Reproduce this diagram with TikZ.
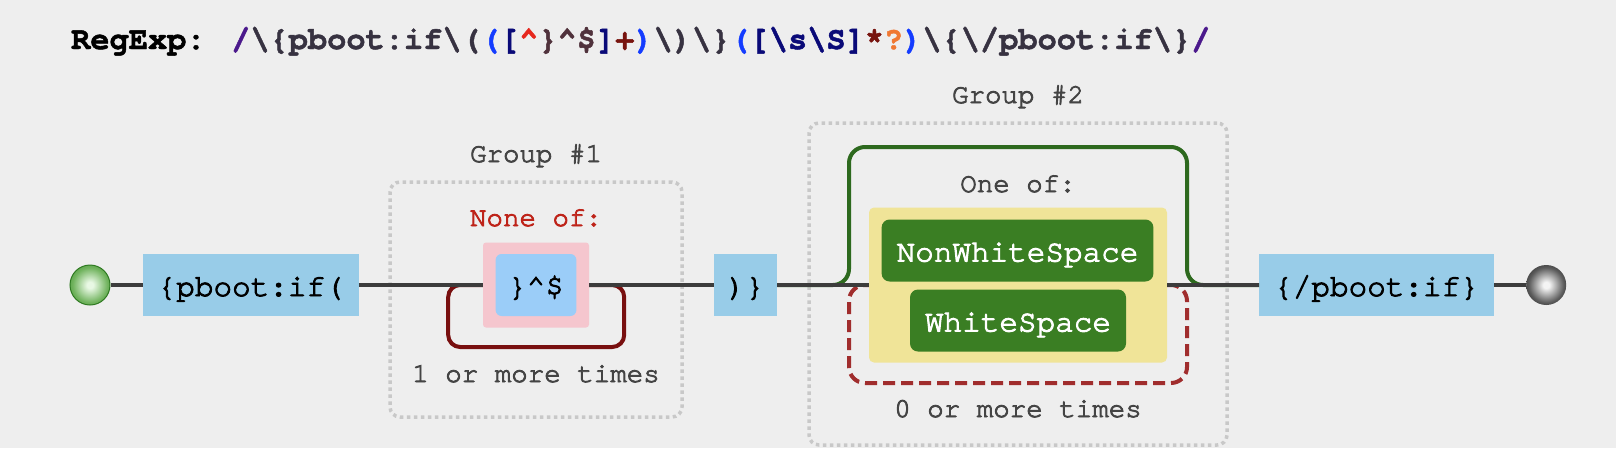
\documentclass[tikz,border=0pt]{standalone}
\usepackage{fontspec}
\setmonofont{TeX Gyre Cursor}
\newfontfamily\railfont[FakeBold=3]{TeX Gyre Cursor}
\newfontfamily\titlefont[FakeBold=1.5]{TeX Gyre Cursor Bold}
\usetikzlibrary{positioning}
\definecolor{bg}{HTML}{EEEEEE}
\definecolor{mainline}{HTML}{3C3C3C}
\definecolor{litblue}{HTML}{98CCE8}
\definecolor{chrblue}{HTML}{9BCDF8}
\definecolor{negpink}{HTML}{F5C6CE}
\definecolor{nonered}{HTML}{BE2319}
\definecolor{loopred}{HTML}{780F0F}
\definecolor{lazyred}{HTML}{A02D2D}
\definecolor{skipgreen}{HTML}{2D691E}
\definecolor{setyellow}{HTML}{F0E498}
\definecolor{classgreen}{HTML}{3A7E23}
\definecolor{groupgray}{HTML}{C8C8C8}
\definecolor{labelgray}{HTML}{444444}
\definecolor{greenhi}{HTML}{E8F8E4}
\definecolor{greenmid}{HTML}{6FB25C}
\definecolor{greenlo}{HTML}{3A8A2C}
\definecolor{greenedge}{HTML}{2F7A22}
\definecolor{blackhi}{HTML}{F4F4F4}
\definecolor{blackmid}{HTML}{5A5A5A}
\definecolor{blacklo}{HTML}{141414}
\definecolor{rxslash}{HTML}{4B198C}
\definecolor{rxlit}{HTML}{373241}
\definecolor{rxgrp}{HTML}{143CFF}
\definecolor{rxset}{HTML}{0A0A78}
\definecolor{rxneg}{HTML}{E6281E}
\definecolor{rxchr}{HTML}{50323C}
\definecolor{rxrep}{HTML}{78140F}
\definecolor{rxlazy}{HTML}{F07832}
\pgfdeclareradialshading{mygreenball}{\pgfpoint{0bp}{0bp}}{%
  color(0bp)=(greenhi); color(4bp)=(greenhi); color(22bp)=(greenmid); color(38bp)=(greenlo); color(50bp)=(greenedge)}
\pgfdeclareradialshading{myblackball}{\pgfpoint{0bp}{0bp}}{%
  color(0bp)=(blackhi); color(4bp)=(blackhi); color(22bp)=(blackmid); color(38bp)=(blacklo); color(50bp)=(black)}
\tikzset{
  my line/.style={draw=mainline, line width=4pt},
  my literal/.style={
    fill=litblue,
    minimum height=62pt,
    inner xsep=15pt,
    inner ysep=0pt,
    text height=22pt,
    text depth=0pt,
    font=\railfont\fontsize{31}{36}\selectfont
  },
  my class/.style={my literal, fill=classgreen, text=white, rounded corners=8pt},
  my group/.style={
    draw=groupgray,
    line width=3.5pt,
    dash pattern=on 3.5pt off 3.5pt,
    rounded corners=10pt
  },
  my label/.style={
    text=labelgray,
    anchor=base,
    inner sep=0pt,
    font=\railfont\fontsize{27.5}{32}\selectfont
  },
  my ball/.style={circle, minimum size=40pt, inner sep=0pt, shade},
  my loop/.style={draw=loopred, line width=4pt, rounded corners=12pt},
  my skip/.style={draw=skipgreen, line width=4pt, rounded corners=16pt},
  my lazy/.style={draw=lazyred, line width=4pt, dash pattern=on 12pt off 6pt, rounded corners=16pt}
}

\begin{document}
\begin{tikzpicture}[x=1pt,y=-1pt]
\fill[bg] (0,0) rectangle (1616,448);
\useasboundingbox (0,0) rectangle (1616,448);
% title
\node (title) [anchor=base west, inner sep=0pt, font=\titlefont\fontsize{32}{38}\selectfont] at (71,49)
  {RegExp: {\color{rxslash}/}{\color{rxlit}\textbackslash\{pboot:if\textbackslash(}{\color{rxgrp}(}{\color{rxset}[}{\color{rxneg}\textasciicircum}{\color{rxchr}\}\textasciicircum\$}{\color{rxset}]}{\color{rxrep}+}{\color{rxgrp})}{\color{rxlit}\textbackslash)\textbackslash\}}{\color{rxgrp}(}{\color{rxset}[\textbackslash s\textbackslash S]}{\color{rxrep}*}{\color{rxlazy}?}{\color{rxgrp})}{\color{rxlit}\textbackslash\{\textbackslash/pboot:if\textbackslash\}}{\color{rxslash}/}};
% groups
\node (grp1) [my group, minimum width=292pt, minimum height=235pt] at (536,299.5) {};
\node [my label] at (536,162) {Group \#1};
\node (grp2) [my group, minimum width=418pt, minimum height=322pt] at (1018,284) {};
\node [my label] at (1018,103) {Group \#2};
% sequence
\node (start) [my ball, shading=mygreenball, draw=greenedge, line width=1pt] at (90,285) {};
\node (lit1) [my literal, right=32pt of start] {\{pboot:if(};
\node (neg) [fill=negpink, rounded corners=3pt, minimum width=106pt, minimum height=85pt] at (536,285) {};
\node (negch) [my literal, fill=chrblue, rounded corners=6pt, inner xsep=12.5pt] at (neg) {\}\textasciicircum\$};
\node [my label, text=nonered] at (536,226) {None of:};
\node [my label] at (536,382) {1 or more times};
\node (lit2) [my literal, inner xsep=13pt] at (745.5,285) {)\}};
\node (cls) [fill=setyellow, rounded corners=5pt, minimum width=298pt, minimum height=155pt] at (1018,285) {};
\node (nws) [my class] at (1017.5,250.5) {NonWhiteSpace};
\node (ws) [my class] at (1018,320.5) {WhiteSpace};
\node [my label] at (1018,192) {One of:};
\node [my label] at (1018,417) {0 or more times};
\node (lit3) [my literal] at (1376.5,285) {\{/pboot:if\}};
\node (end) [my ball, shading=myblackball, right=32pt of lit3] {};
% loops
\draw[my loop] (neg.east) -- ++(35,0) -- ++(0,62) -- ++(-176,0) -- ++(0,-62) -- (neg.west);
\draw[my skip] (lit2.east) -- (849,285) -- (849,147) -- (1187,147) -- (1187,285) -- (lit3.west);
\draw[my lazy] (cls.east) -- (1187,285) -- (1187,383) -- (849,383) -- (849,285) -- (cls.west);
% main line
\draw[my line] (start) -- (lit1) (lit1) -- (neg) (neg) -- (lit2) (lit2) -- (cls) (cls) -- (lit3) (lit3) -- (end);
\end{tikzpicture}
\end{document}
